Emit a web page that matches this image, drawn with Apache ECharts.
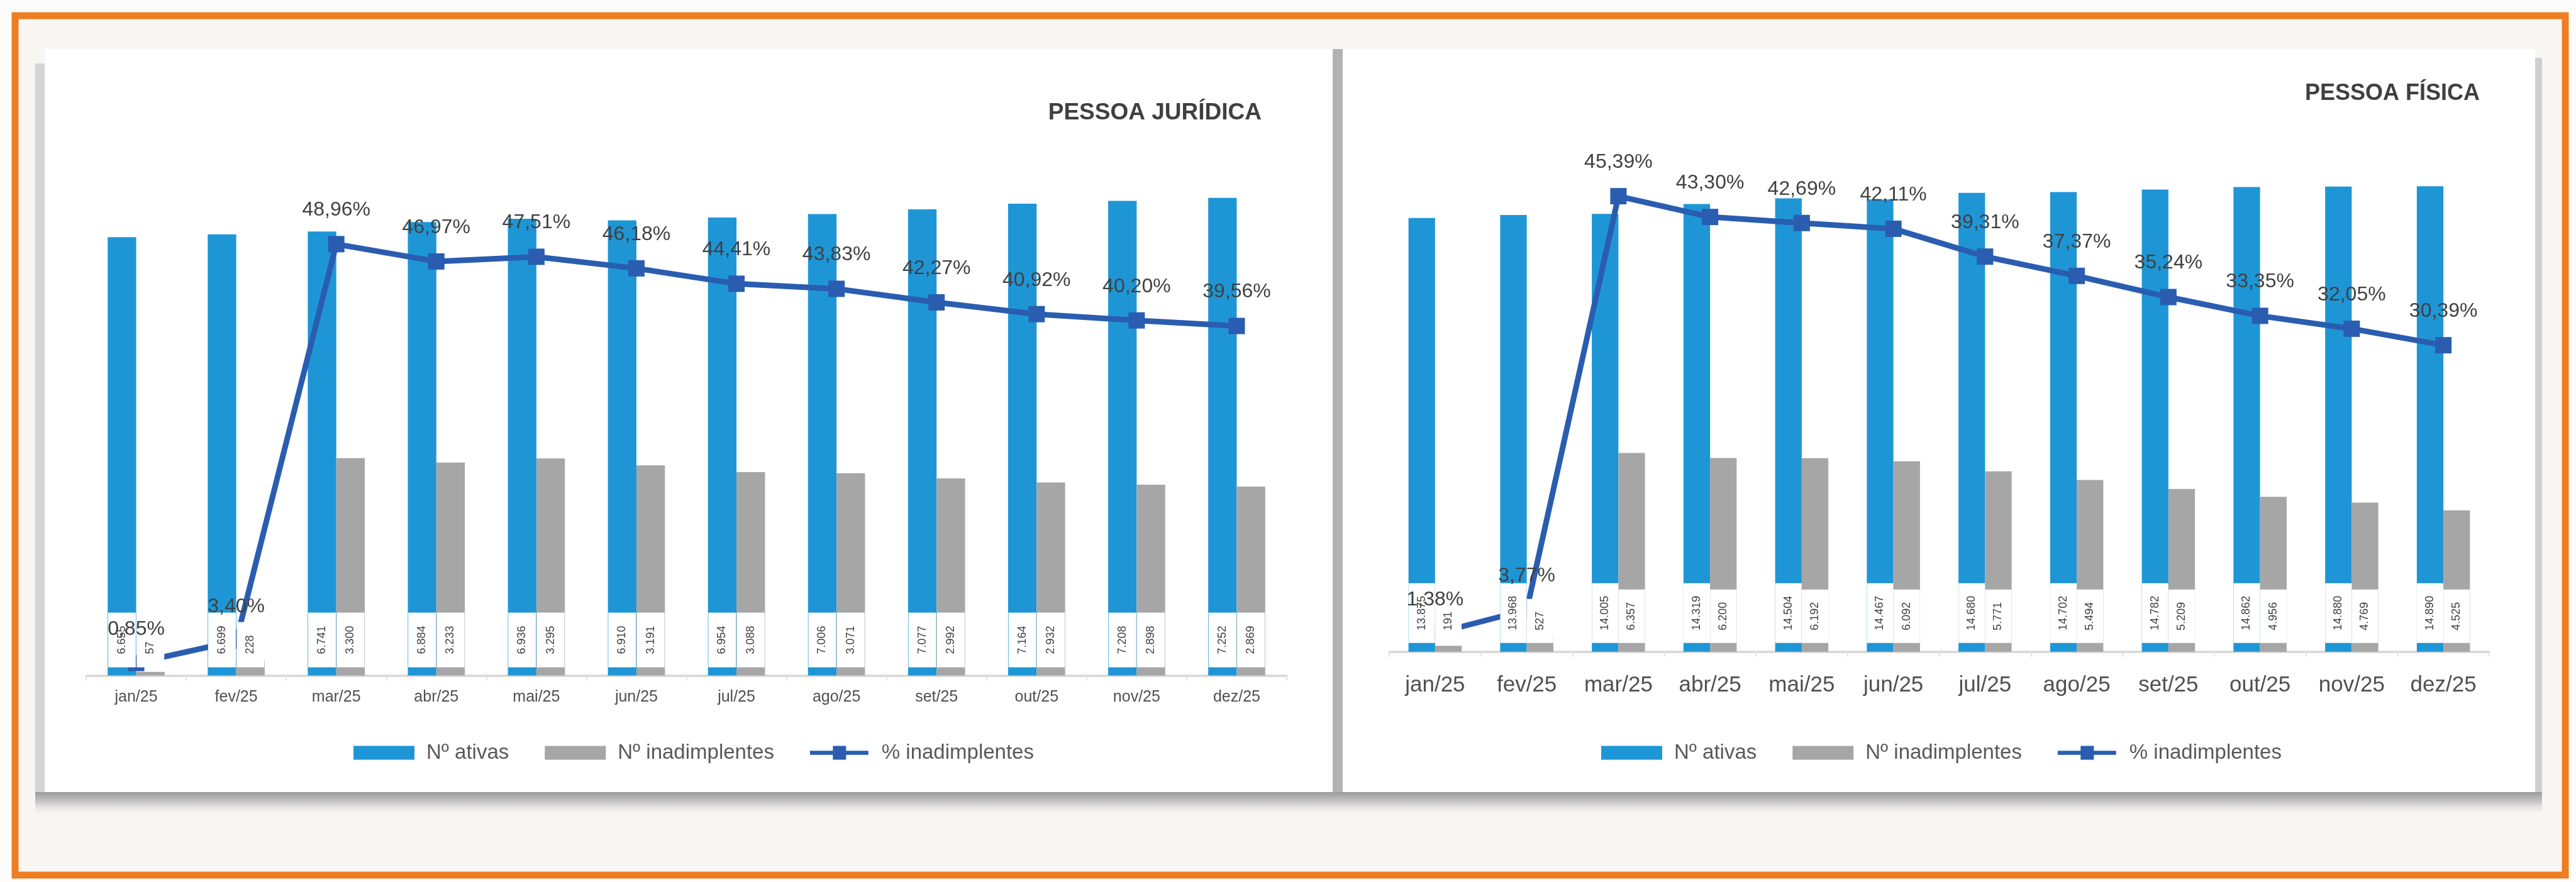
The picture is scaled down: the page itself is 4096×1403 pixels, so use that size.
<!DOCTYPE html>
<html>
<head>
<meta charset="utf-8">
<script src="https://cdn.jsdelivr.net/npm/echarts@6/dist/echarts.min.js"></script>
<style>
html,body{margin:0;padding:0;background:#fdfcfa;}
#c{width:4096px;height:1403px;}
</style>
</head>
<body>
<div id="c"></div>
<script>
// ---------- data ----------
const months = ['jan/25','fev/25','mar/25','abr/25','mai/25','jun/25','jul/25','ago/25','set/25','out/25','nov/25','dez/25'];

const titlePJ = 'PESSOA JURÍDICA';
const pjAtivas = [6655, 6699, 6741, 6884, 6936, 6910, 6954, 7006, 7077, 7164, 7208, 7252];
const pjInad   = [57, 228, 3300, 3233, 3295, 3191, 3088, 3071, 2992, 2932, 2898, 2869];
const pjPct    = [0.85, 3.40, 48.96, 46.97, 47.51, 46.18, 44.41, 43.83, 42.27, 40.92, 40.20, 39.56];

const titlePF = 'PESSOA FÍSICA';
const pfAtivas = [13875, 13968, 14005, 14319, 14504, 14467, 14680, 14702, 14782, 14862, 14880, 14890];
const pfInad   = [191, 527, 6357, 6200, 6192, 6092, 5771, 5494, 5209, 4956, 4769, 4525];
const pfPct    = [1.38, 3.77, 45.39, 43.30, 42.69, 42.11, 39.31, 37.37, 35.24, 33.35, 32.05, 30.39];

const legendNames = ['Nº ativas', 'Nº inadimplentes', '% inadimplentes'];

// ---------- style ----------
const FF = "'Liberation Sans', Arial, sans-serif";
const BLUE = '#1e96d6';
const GRAY = '#a6a6a6';
const LINE = '#2a5db0';
const TXT = '#404040';
const LINE_ICON = 'path://M0,8L38,8L38,0L60,0L60,8L97,8L97,15L60,15L60,23L38,23L38,15L0,15Z';

const fmtInt = v => String(v).replace(/\B(?=(\d{3})+(?!\d))/g, '.');
const fmtPct = v => v.toFixed(2).replace('.', ',') + '%';

function barLabel(dist, padW, padL) {
  return {
    show: true, position: 'insideBottom', distance: dist, rotate: 90,
    align: 'left', verticalAlign: 'middle',
    fontFamily: FF, fontSize: 18, lineHeight: 18, color: TXT,
    backgroundColor: '#ffffff', padding: [padW, padL, padW, padL],
    formatter: p => fmtInt(p.value)
  };
}

function catAxis(gridIndex, show, fontSize, margin) {
  return {
    type: 'category', gridIndex: gridIndex, data: months, show: show,
    axisLine: { show: true, lineStyle: { color: '#d6d6d6', width: 3.5 } },
    axisTick: { show: true, length: 8, lineStyle: { color: '#e2e2e2', width: 2 } },
    axisLabel: { interval: 0, fontFamily: FF, fontSize: fontSize, color: '#505050', margin: margin },
    splitLine: { show: false }
  };
}
function valAxis(gridIndex, min, max) {
  return { type: 'value', gridIndex: gridIndex, min: min, max: max, show: false, splitLine: { show: false } };
}

function chartSeries(xMain, xOver, yPrim, ySec, ativas, inad, pct, gap, dist, padW, padA, padI) {
  return [
    { name: legendNames[0], type: 'bar', xAxisIndex: xMain, yAxisIndex: yPrim, data: ativas,
      barGap: '0%', barCategoryGap: gap, itemStyle: { color: BLUE }, z: 2, silent: true },
    { name: legendNames[1], type: 'bar', xAxisIndex: xMain, yAxisIndex: yPrim, data: inad,
      barGap: '0%', barCategoryGap: gap, itemStyle: { color: GRAY }, z: 2, silent: true },
    { name: legendNames[2], type: 'line', xAxisIndex: xMain, yAxisIndex: ySec, data: pct,
      symbol: 'rect', symbolSize: 26, lineStyle: { color: LINE, width: 9 }, itemStyle: { color: LINE },
      z: 3, silent: true },
    { name: '_lblA' + xMain, type: 'bar', xAxisIndex: xOver, yAxisIndex: yPrim, data: ativas,
      barGap: '0%', barCategoryGap: gap, itemStyle: { color: 'rgba(0,0,0,0)' },
      label: barLabel(dist, padW, padA), z: 5, silent: true },
    { name: '_lblI' + xMain, type: 'bar', xAxisIndex: xOver, yAxisIndex: yPrim, data: inad,
      barGap: '0%', barCategoryGap: gap, itemStyle: { color: 'rgba(0,0,0,0)' },
      label: barLabel(dist, padW, padI), z: 5, silent: true },
    { name: '_lblP' + xMain, type: 'line', xAxisIndex: xMain, yAxisIndex: ySec, data: pct,
      symbol: 'rect', symbolSize: 26, itemStyle: { color: 'rgba(0,0,0,0)' },
      lineStyle: { width: 0, opacity: 0 }, z: 6, silent: true,
      label: { show: true, position: 'top', distance: 25, fontFamily: FF, fontSize: 32, color: TXT,
               formatter: p => fmtPct(p.value) } }
  ];
}

function legendFor(left) {
  return {
    left: left, top: 1176, orient: 'horizontal', itemWidth: 97, itemHeight: 22, itemGap: 57,
    selectedMode: false,
    data: [
      { name: legendNames[0], icon: 'rect' },
      { name: legendNames[1], icon: 'rect' },
      { name: legendNames[2], icon: LINE_ICON, itemStyle: { color: LINE } }
    ],
    textStyle: { fontFamily: FF, fontSize: 33, color: '#595959', padding: [0, 0, 0, 14] }
  };
}

const chart = echarts.init(document.getElementById('c'), null, { renderer: 'canvas', width: 4096, height: 1403 });

const option = {
  animation: false,
  backgroundColor: '#fdfcfa',
  graphic: [
    { type: 'rect', z: -10, silent: true, shape: { x: 24, y: 25, width: 4055, height: 1367 },
      style: { fill: '#f8f6f3', stroke: '#ef7d22', lineWidth: 11 } },
    { type: 'rect', z: -9, silent: true, shape: { x: 56, y: 101, width: 15, height: 1159 }, style: { fill: '#d4d4d4' } },
    { type: 'rect', z: -9, silent: true, shape: { x: 4031, y: 92, width: 11, height: 1168 }, style: { fill: '#cfcfcf' } },
    { type: 'rect', z: -9, silent: true, shape: { x: 56, y: 1260, width: 3986, height: 38 },
      style: { fill: new echarts.graphic.LinearGradient(0, 0, 0, 1, [
        { offset: 0, color: '#9a9a9a' }, { offset: 0.5, color: '#d2d2d2' }, { offset: 1, color: 'rgba(248,246,243,0)' }]) } },
    { type: 'rect', z: -8, silent: true, shape: { x: 71, y: 78, width: 2048, height: 1182 }, style: { fill: '#ffffff' } },
    { type: 'rect', z: -8, silent: true, shape: { x: 2119, y: 78, width: 16, height: 1182 }, style: { fill: '#b3b3b3' } },
    { type: 'rect', z: -8, silent: true, shape: { x: 2135, y: 78, width: 1896, height: 1182 }, style: { fill: '#ffffff' } },
    { type: 'text', z: 10, silent: true, x: 2006, y: 180,
      style: { text: titlePJ, font: 'bold 37px ' + FF, fill: TXT, textAlign: 'right', textVerticalAlign: 'middle' } },
    { type: 'text', z: 10, silent: true, x: 3943, y: 149,
      style: { text: titlePF, font: 'bold 36px ' + FF, fill: TXT, textAlign: 'right', textVerticalAlign: 'middle' } }
  ],
  grid: [
    { left: 137, top: 236.4, width: 1909, height: 838.2 },
    { left: 2209, top: 241, width: 1749, height: 795.8 }
  ],
  xAxis: [
    catAxis(0, true, 25, 22),
    catAxis(0, false, 25, 22),
    catAxis(1, true, 35, 36),
    catAxis(1, false, 35, 36)
  ],
  yAxis: [
    valAxis(0, 0, 8000),
    valAxis(0, -0.586, 59.93),
    valAxis(1, 0, 16000),
    valAxis(1, -0.457, 49.886)
  ],
  legend: [legendFor(557), legendFor(2541)],
  series: [].concat(
    chartSeries(0, 1, 0, 1, pjAtivas, pjInad, pjPct, '43%', 13, 13, 21, 21),
    chartSeries(2, 3, 2, 3, pfAtivas, pfInad, pfPct, '42%', 14, 12, 20, 20)
  )
};

chart.setOption(option);
</script>
</body>
</html>
